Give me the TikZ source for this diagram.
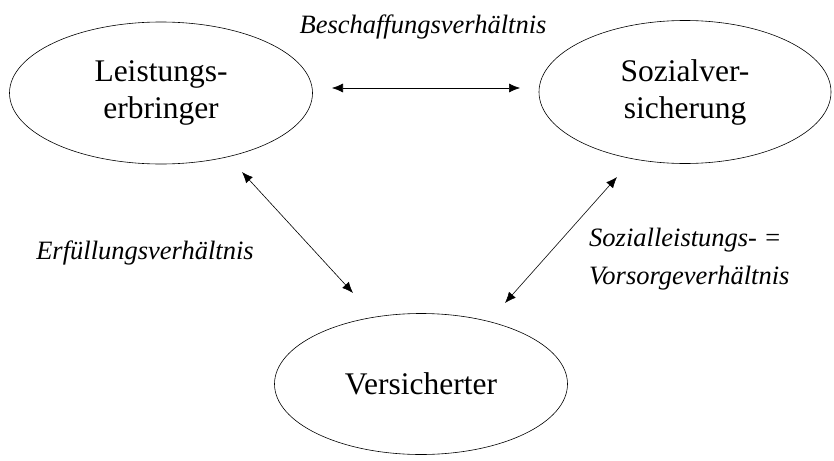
\documentclass[tikz,border=0pt]{standalone}
\usepackage{fontspec}
\setmainfont{Liberation Serif}
\usetikzlibrary{shapes.geometric,arrows.meta}

\tikzset{
  party/.style={ellipse, draw, line width=0.6pt, inner sep=0pt, align=center,
    font=\fontsize{31.5}{37}\selectfont},
  relation/.style={font=\itshape\fontsize{26.5}{38}\selectfont, inner sep=0pt},
  link/.style={line width=0.6pt, {Latex[length=11pt,width=9pt]}-{Latex[length=11pt,width=9pt]}}
}

\begin{document}
\begin{tikzpicture}[x=1pt,y=-1pt]
\useasboundingbox (0,0) rectangle (834,460);

% the three parties
\node[party, minimum width=303pt, minimum height=142pt] (L) at (161,93) {Leistungs-\\erbringer};
\node[party, minimum width=292pt, minimum height=143pt] (S) at (685,92) {Sozialver-\\sicherung};
\node[party, minimum width=293pt, minimum height=141pt] (V) at (421,384) {Versicherter};

% arrow ends, kept clear of the ellipses
\coordinate (lr) at (332,88);
\coordinate (rl) at (520,88);
\coordinate (lv) at (242,172);
\coordinate (vl) at (353,293);
\coordinate (sv) at (617,177);
\coordinate (vs) at (505,303);

\draw[link] (lr) -- (rl);
\draw[link] (lv) -- (vl);
\draw[link] (sv) -- (vs);

% relation labels
\node[relation] (b) at (423,27) {Beschaffungsverhältnis};
\node[relation] (e) at (145,253) {Erfüllungsverhältnis};
\node[relation, anchor=west, align=left] (s) at (589,259) {Sozialleistungs- =\\Vorsorgeverhältnis};
\end{tikzpicture}
\end{document}
